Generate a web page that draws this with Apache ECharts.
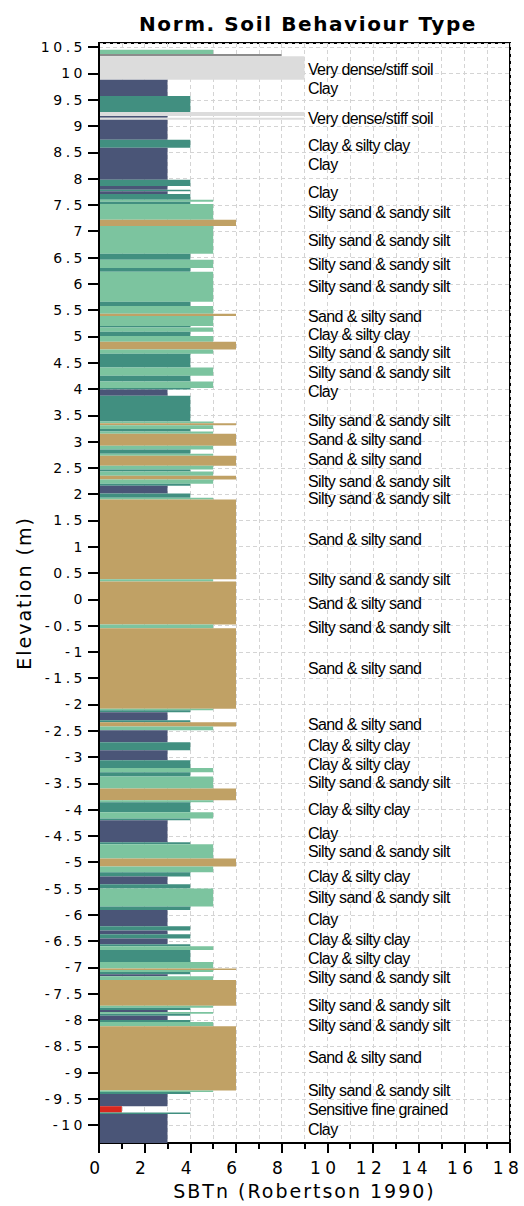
<!DOCTYPE html>
<html><head><meta charset="utf-8">
<script src="https://cdn.jsdelivr.net/npm/echarts@6/dist/echarts.min.js"></script>
<style>
html,body{margin:0;padding:0;background:#fff}
#c{width:524px;height:1206px}
#c text[style*="ylab"]{letter-spacing:3.5px}
#c text[style*="xlab"]{letter-spacing:4.5px}
#c text[style*="aname"]{letter-spacing:2px}
#c text[style*="ttl"]{letter-spacing:1.6px}
#c text[style*="slab"]{letter-spacing:-0.6px}
</style>
</head><body><div id="c"></div>
<script>
// Layer tops (elevation, m) and SBTn zone of each layer; each layer runs down to the next top
const layerTop = [10.45,10.37,10.33,9.88,9.57,9.27,9.19,9.16,9.12,8.74,8.59,7.98,7.86,7.79,7.76,7.71,7.60,7.56,7.52,7.22,7.10,
  6.57,6.46,6.30,6.23,5.66,5.58,5.43,5.39,5.20,5.17,5.09,5.01,4.90,4.75,4.67,4.41,4.25,4.14,4.02,3.99,3.87,
  3.38,3.35,3.31,3.24,3.19,3.15,2.92,2.85,2.77,2.73,2.54,2.47,2.43,2.35,2.28,2.20,2.16,2.01,1.93,1.90,
  0.38,0.34,-0.48,-0.55,-2.08,-2.11,-2.15,-2.30,-2.34,-2.42,-2.49,-2.72,-2.87,-3.06,-3.21,-3.29,-3.37,-3.60,-3.82,-3.86,
  -4.05,-4.17,-4.20,-4.62,-4.66,-4.93,-5.08,-5.19,-5.27,-5.42,-5.50,-5.84,-5.91,-6.22,-6.30,-6.37,-6.45,-6.56,-6.60,-6.67,
  -6.90,-7.02,-7.05,-7.09,-7.13,-7.17,-7.24,-7.73,-7.77,-7.81,-7.85,-7.88,-7.92,-8.00,-8.04,-8.12,-9.34,-9.37,-9.41,-9.64,-9.76,-9.79];
const layerSbt = [5,8,9,3,4,9,3,9,3,4,3,4,3,4,3,4,5,4,5,6,5,
  4,5,4,5,4,5,6,5,4,5,4,5,6,5,4,5,4,5,4,3,4,
  5,6,5,4,5,6,5,4,5,6,5,4,5,6,5,4,3,4,5,6,
  5,6,5,6,5,4,3,4,6,5,3,4,3,4,5,4,5,6,5,4,
  5,4,3,4,5,6,5,4,3,4,5,4,3,4,3,4,3,4,5,4,
  5,6,5,4,3,5,6,5,4,3,5,4,3,4,5,6,5,4,3,1,4,3];
const bottomElevation = -10.34;
const topElevation = 10.58;

// Zone descriptions written to the right of the log
const zoneLabelElevation = [10.07,9.71,9.14,8.64,8.26,7.73,7.35,6.82,6.36,5.94,5.37,5.03,4.69,4.31,3.95,3.40,3.04,2.66,2.24,1.91,
  1.14,0.38,-0.08,-0.54,-1.32,-2.38,-2.78,-3.14,-3.49,-4.00,-4.46,-4.80,-5.28,-5.67,-6.09,-6.47,-6.83,-7.19,-7.72,-8.10,-8.71,-9.34,-9.70,-10.08];
const zoneLabelText = ['Very dense/stiff soil','Clay','Very dense/stiff soil','Clay & silty clay','Clay','Clay',
  'Silty sand & sandy silt','Silty sand & sandy silt','Silty sand & sandy silt','Silty sand & sandy silt','Sand & silty sand',
  'Clay & silty clay','Silty sand & sandy silt','Silty sand & sandy silt','Clay','Silty sand & sandy silt','Sand & silty sand',
  'Sand & silty sand','Silty sand & sandy silt','Silty sand & sandy silt','Sand & silty sand','Silty sand & sandy silt',
  'Sand & silty sand','Silty sand & sandy silt','Sand & silty sand','Sand & silty sand','Clay & silty clay','Clay & silty clay',
  'Silty sand & sandy silt','Clay & silty clay','Clay','Silty sand & sandy silt','Clay & silty clay','Silty sand & sandy silt',
  'Clay','Clay & silty clay','Clay & silty clay','Silty sand & sandy silt','Silty sand & sandy silt','Silty sand & sandy silt',
  'Sand & silty sand','Silty sand & sandy silt','Sensitive fine grained','Clay'];
const zoneLabelX = 9.15;

const zoneColors = {1:'#d8271e',2:'#b0793c',3:'#4a5577',4:'#418f80',5:'#7cc49f',6:'#c0a165',7:'#e6c98c',8:'#8c8c8c',9:'#dcdcdc'};

const layerData = layerTop.map((t,i)=>[t, i+1<layerTop.length ? layerTop[i+1] : bottomElevation, layerSbt[i]]);
const labelData = zoneLabelElevation.map((e,i)=>[zoneLabelX, e, zoneLabelText[i]]);

const chart = echarts.init(document.getElementById('c'), null, {renderer:'svg'});
chart.setOption({
  animation:false,
  title:{text:'Norm. Soil Behaviour Type', left:134, top:9,
    textStyle:{fontFamily:'"DejaVu Sans", ttl', fontSize:20, fontWeight:'bold', color:'#000'}},
  grid:{left:99, right:14, top:43, bottom:63, show:true, borderColor:'#000', borderWidth:2, backgroundColor:'transparent'},
  xAxis:{type:'value', min:0, max:18, interval:2,
    name:'SBTn (Robertson 1990)', nameLocation:'middle', nameGap:38,
    nameTextStyle:{fontFamily:'"DejaVu Sans", aname', fontSize:19, color:'#000'},
    axisLine:{show:true, onZero:false, lineStyle:{color:'#000', width:2}},
    axisTick:{show:true, length:10, lineStyle:{color:'#000', width:2}},
    minorTick:{show:true, splitNumber:2, length:6, lineStyle:{color:'#000', width:2}},
    axisLabel:{fontFamily:'"DejaVu Sans", xlab', fontSize:17, color:'#000', margin:16, padding:[0,4,0,0]},
    splitLine:{show:true, lineStyle:{color:'#d4d4d4', type:[4,3], width:1}},
    minorSplitLine:{show:true, lineStyle:{color:'#d4d4d4', type:[4,3], width:1}}
  },
  yAxis:{type:'value', min:bottomElevation, max:topElevation, minInterval:0.5, maxInterval:0.5, splitNumber:42,
    name:'Elevation (m)', nameLocation:'middle', nameGap:66,
    nameTextStyle:{fontFamily:'"DejaVu Sans", aname', fontSize:19, color:'#000'},
    axisLine:{show:true, onZero:false, lineStyle:{color:'#000', width:2}},
    axisTick:{show:true, length:11, lineStyle:{color:'#000', width:2}},
    axisLabel:{fontFamily:'"DejaVu Sans", ylab', fontSize:14, color:'#000', margin:13, showMinLabel:false, showMaxLabel:false,
      formatter:v=>{ const r=Math.round(v*2)/2; return Math.abs(r-v)<1e-6 ? String(r) : ''; }},
    splitLine:{show:true, lineStyle:{color:'#d4d4d4', type:[4,3], width:1}}
  },
  series:[
    {type:'custom', name:'layers', data:layerData, encode:{x:2, y:[0,1]}, clip:true,
     renderItem:(params, api)=>{
       const p1 = api.coord([0, api.value(0)]);
       const p2 = api.coord([api.value(2), api.value(1)]);
       return {type:'rect', shape:{x:p1[0]+1, y:p1[1], width:p2[0]-p1[0]-1, height:p2[1]-p1[1]},
         style:{fill:zoneColors[api.value(2)]}};
     }},
    {type:'custom', name:'labels', data:labelData, encode:{x:0, y:1}, clip:false,
     renderItem:(params, api)=>{
       const p = api.coord([api.value(0), api.value(1)]);
       return {type:'text', x:p[0], y:p[1],
         style:{text:zoneLabelText[params.dataIndex], fill:'#000', fontFamily:'"Liberation Sans", slab', fontSize:16,
           align:'left', verticalAlign:'middle'}};
     }}
  ]
});
</script></body></html>
